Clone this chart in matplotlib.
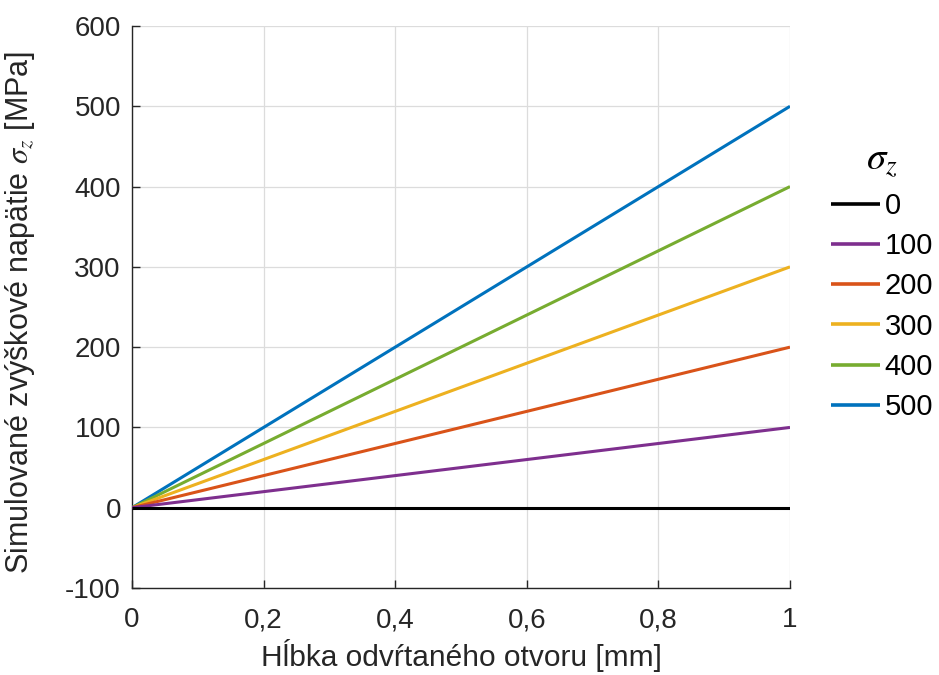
import matplotlib
matplotlib.use("Agg")
import matplotlib.pyplot as plt

plt.rcParams['font.family'] = ['Liberation Sans', 'DejaVu Sans']
plt.rcParams['mathtext.fontset'] = 'stix'
plt.rcParams['axes.unicode_minus'] = False

depth = [0.0, 1.0]
stress_0 = [0, 0]
stress_100 = [0, 100]
stress_200 = [0, 200]
stress_300 = [0, 300]
stress_400 = [0, 400]
stress_500 = [0, 500]
series = [stress_0, stress_100, stress_200, stress_300, stress_400, stress_500]
labels = ['0', '100', '200', '300', '400', '500']
colors = ['#000000', '#7E2F8E', '#D95319', '#EDB120', '#77AC30', '#0072BD']

xticks = [0, 0.2, 0.4, 0.6, 0.8, 1.0]
xticklabels = ['0', '0,2', '0,4', '0,6', '0,8', '1']
yticks = [-100, 0, 100, 200, 300, 400, 500, 600]

fig = plt.figure(figsize=(9.39, 6.75), dpi=100)
ax = fig.add_axes([132/939, 1-588/675, (790-132)/939, (588-26)/675])

n = len(series)
for i, (ys, lab, c) in enumerate(zip(series, labels, colors)):
    ax.plot(depth, ys, color=c, lw=2.2, label=lab, zorder=10 + (n - i),
            solid_capstyle='butt')

ax.set_xlim(0, 1)
ax.set_ylim(-100, 600)
ax.set_xticks(xticks)
ax.set_xticklabels(xticklabels)
ax.set_yticks(yticks)
ax.grid(True, color='#dcdcdc', lw=0.9)
ax.set_axisbelow(True)
for s in ['top', 'right']:
    ax.spines[s].set_visible(False)
for s in ['left', 'bottom']:
    ax.spines[s].set_color('#262626')
    ax.spines[s].set_linewidth(1.0)
ax.tick_params(direction='in', length=6, width=1.0, colors='#262626',
               labelsize=20, labelcolor='#262626')
ax.tick_params(axis='x', pad=14)
ax.tick_params(axis='y', pad=8)

ax.set_xlabel('Hĺbka odvŕtaného otvoru [mm]', fontsize=21.5, color='#262626', labelpad=4)
ax.set_ylabel(r'Simulované zvýškové napätie $\sigma_z$ [MPa]', fontsize=22,
              color='#262626')
ax.yaxis.set_label_coords(-0.144, 0.49)

leg = fig.legend(loc='upper left', bbox_to_anchor=(819/939, 1-130/675),
                 frameon=False, fontsize=21, handlelength=1.7, handletextpad=0.15,
                 labelspacing=0.42, title=r'$\sigma_z$', title_fontsize=28,
                 borderaxespad=0)
for h in leg.get_lines():
    h.set_linewidth(2.6)

fig.savefig('out.png', dpi=100, facecolor='white')
